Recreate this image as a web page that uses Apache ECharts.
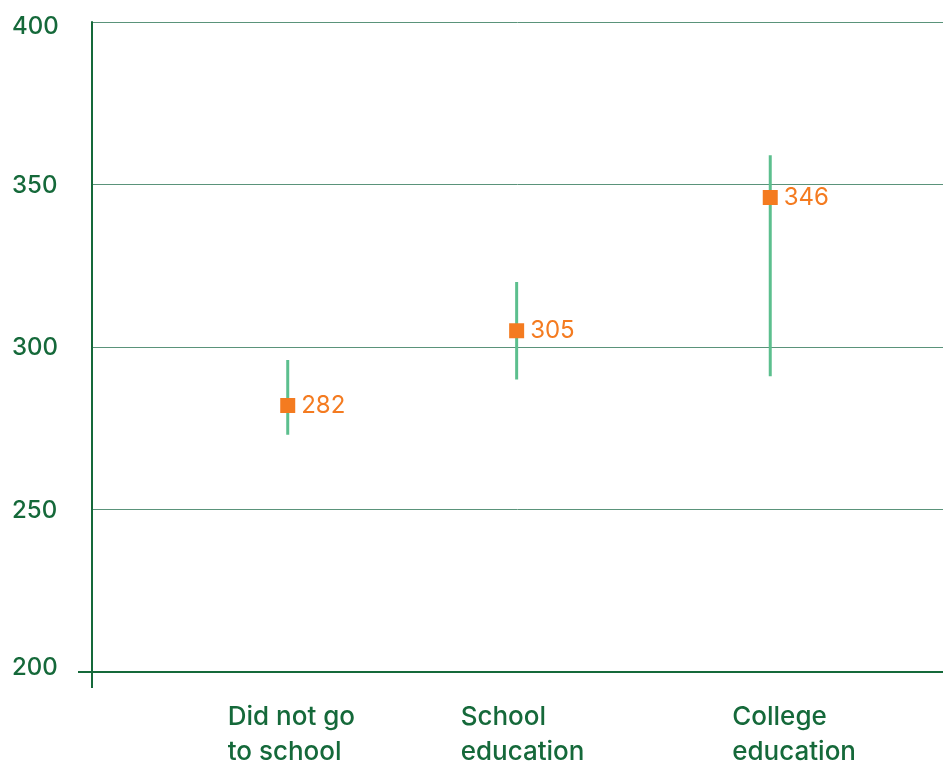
<!DOCTYPE html>
<html>
<head>
<meta charset="utf-8">
<script src="https://cdn.jsdelivr.net/npm/echarts@6/dist/echarts.min.js"></script>
<style>
  html, body { margin: 0; padding: 0; background: #ffffff; }
  #chart { width: 943px; height: 765px; }
</style>
</head>
<body>
<div id="chart"></div>
<script>
// Scores by education level: mean with low/high range
const categories = ['Did not go\nto school', 'School\neducation', 'College\neducation'];
const categoryX = [0.230, 0.499, 0.797];
const meanScore = [282, 305, 346];
const lowScore = [273, 290, 291];
const highScore = [296, 320, 359];
const yTicks = [200, 250, 300, 350, 400];

const FONT = 'Inter, "Noto Sans", sans-serif';
const DARK_GREEN = '#15693a';
const GRID_GREEN = '#5a937a';
const BAR_GREEN = '#5cbf8e';
const ORANGE = '#f47b20';

// horizontal shift of each category caption relative to its point
const captionShift = [-60, -56, -38];

const chart = echarts.init(document.getElementById('chart'), null, { renderer: 'canvas' });

const rangeData = categories.map((c, i) => [categoryX[i], lowScore[i], highScore[i]]);
const meanData = categories.map((c, i) => [categoryX[i], meanScore[i]]);
const captionData = categories.map((c, i) => ({
  value: [categoryX[i], yTicks[0]],
  name: c,
  label: { position: [captionShift[i], 28] }
}));

const yMin = yTicks[0];
const yMax = yTicks[yTicks.length - 1];
const tickText = { color: DARK_GREEN, fontFamily: FONT, fontSize: 24, fontWeight: 500 };

chart.setOption({
  animation: false,
  grid: { left: 92, right: 0, top: 22, bottom: 93, containLabel: false },
  xAxis: {
    type: 'value',
    min: 0,
    max: 1,
    axisLine: { show: true, lineStyle: { color: DARK_GREEN, width: 2 } },
    axisTick: { show: false },
    axisLabel: { show: false },
    splitLine: { show: false }
  },
  yAxis: {
    type: 'value',
    min: yMin,
    max: yMax,
    interval: yTicks[1] - yTicks[0],
    axisLine: { show: true, lineStyle: { color: DARK_GREEN, width: 2 } },
    axisTick: { show: false },
    axisLabel: Object.assign({
      align: 'left',
      margin: 80,
      formatter: function (v) {
        if (v === yMax) return '{top|' + v + '}';
        if (v === yMin) return '{bot|' + v + '}';
        return '{mid|' + v + '}';
      },
      rich: {
        top: Object.assign({ padding: [10, 0, 0, 0] }, tickText),
        bot: Object.assign({ padding: [0, 0, 8, 0] }, tickText),
        mid: Object.assign({ padding: [2, 0, 0, 0] }, tickText)
      }
    }, tickText),
    splitLine: { show: true, lineStyle: { color: GRID_GREEN, width: 1 } }
  },
  series: [
    {
      name: 'range',
      type: 'custom',
      data: rangeData,
      z: 2,
      renderItem: function (params, api) {
        const x = api.value(0);
        const p1 = api.coord([x, api.value(1)]);
        const p2 = api.coord([x, api.value(2)]);
        return {
          type: 'line',
          shape: { x1: p1[0], y1: p1[1], x2: p2[0], y2: p2[1] },
          style: { stroke: BAR_GREEN, lineWidth: 3 }
        };
      }
    },
    {
      name: 'mean',
      type: 'scatter',
      data: meanData,
      z: 3,
      symbol: 'rect',
      symbolSize: 15,
      itemStyle: { color: ORANGE, opacity: 1 },
      label: {
        show: true,
        position: 'right',
        distance: 6,
        formatter: function (p) { return String(p.value[1]); },
        color: ORANGE,
        opacity: 1,
        fontFamily: FONT,
        fontSize: 24
      }
    },
    {
      name: 'captions',
      type: 'scatter',
      data: captionData,
      symbolSize: 0,
      silent: true,
      itemStyle: { opacity: 1 },
      label: {
        show: true,
        formatter: '{b}',
        align: 'left',
        verticalAlign: 'top',
        color: DARK_GREEN,
        opacity: 1,
        fontFamily: FONT,
        fontSize: 26,
        fontWeight: 500,
        lineHeight: 35
      }
    }
  ]
});

// small overhang of both axes past the origin
const origin = chart.convertToPixel({ gridIndex: 0 }, [0, yMin]);
chart.setOption({
  graphic: [
    {
      type: 'line',
      shape: { x1: origin[0] - 14, y1: origin[1], x2: origin[0], y2: origin[1] },
      style: { stroke: DARK_GREEN, lineWidth: 2 }
    },
    {
      type: 'line',
      shape: { x1: origin[0], y1: origin[1], x2: origin[0], y2: origin[1] + 16 },
      style: { stroke: DARK_GREEN, lineWidth: 2 }
    }
  ]
});
</script>
</body>
</html>
